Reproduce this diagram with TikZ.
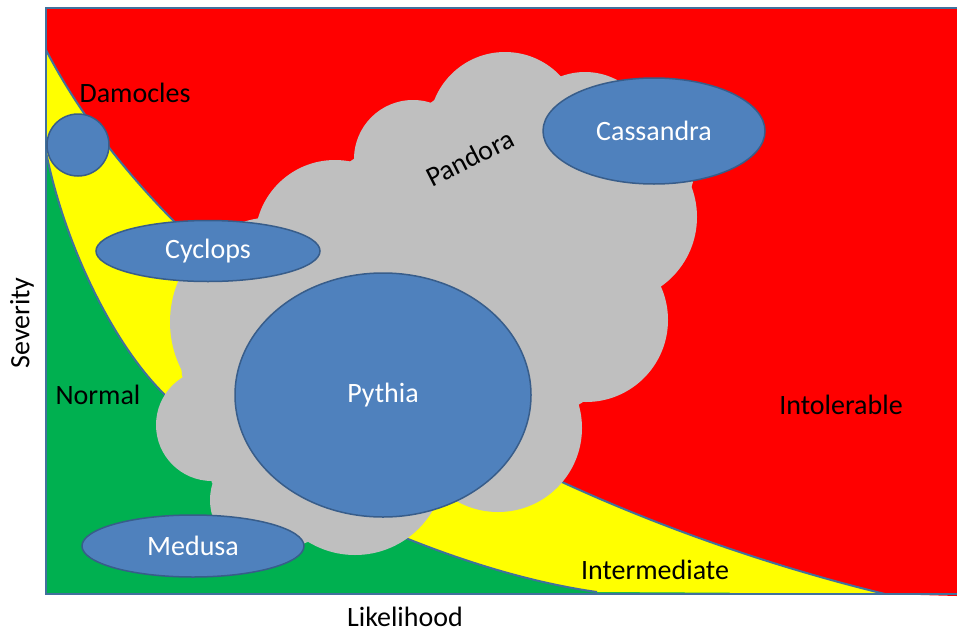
\documentclass[tikz,border=0pt]{standalone}
\usepackage{fontspec}
\setmainfont{Carlito}
\usetikzlibrary{shapes.geometric}
\definecolor{rd}{HTML}{FF0000}
\definecolor{yl}{HTML}{FFFF00}
\definecolor{gn}{HTML}{00B050}
\definecolor{cl}{HTML}{BFBFBF}
\definecolor{bl}{HTML}{4F81BD}
\definecolor{ol}{HTML}{385D8A}
\definecolor{fr}{HTML}{41719C}
\begin{document}
\begin{tikzpicture}[x=1pt,y=-1pt,
  lbl/.style={font=\fontsize{28}{30}\selectfont, text=black, inner sep=0pt},
  blob/.style={ellipse, draw=ol, fill=bl, line width=1.5pt, text=white,
    font=\fontsize{28}{30}\selectfont, inner sep=0pt},
  boundary/.style={draw=fr, line width=2pt},
  cloudpart/.style={fill=cl}]
\useasboundingbox (0,0) rectangle (957,632);
% regions
\fill[gn] (46,8) rectangle (957,594);
\fill[yl] (46,152) .. controls (66,250) and (115,345) .. (163,393)
  .. controls (243,473) and (440,570) .. (597,592) -- (957,594) -- (957,8) -- (46,8) -- cycle;
\fill[rd] (46,50) .. controls (176,300) and (520,505) .. (885,594)
  -- (957,596) -- (957,8) -- (46,8) -- cycle;
\draw[boundary] (46,152) .. controls (66,250) and (115,345) .. (163,393)
  .. controls (243,473) and (440,570) .. (597,592);
\draw[boundary] (46,50) .. controls (176,300) and (520,505) .. (885,594);
% cloud (Pandora)
\fill[cloudpart] (265,222) -- (355,158) -- (440,96) -- (555,74) -- (640,110) -- (693,182)
  -- (660,287) -- (583,402) -- (441,490) -- (300,545) -- (212,483) -- (182,375) -- (175,290) -- cycle;
\fill[cloudpart] (335,240) circle[radius=80];
\fill[cloudpart] (413,159) circle[radius=59];
\fill[cloudpart] (505,128) circle[radius=76];
\fill[cloudpart] (585,140) circle[radius=68];
\fill[cloudpart] (612,217) circle[radius=85];
\fill[cloudpart] (586,320) circle[radius=82];
\fill[cloudpart] (498,428) circle[radius=84];
\fill[cloudpart] (355,465) circle[radius=90];
\fill[cloudpart] (265,500) circle[radius=55];
\fill[cloudpart] (212,425) circle[radius=56];
\fill[cloudpart] (275,322) circle[radius=105];
% frame
\draw[fr, line width=1.5pt] (957,8) -- (46,8) -- (46,594) -- (957,594);
% ellipses
\node[blob, circle, minimum size=62pt] (damoclesdisc) at (78,145) {};
\node[blob, minimum width=224pt, minimum height=61pt] (cyclops) at (208,251) {Cyclops};
\node[blob, minimum width=222pt, minimum height=106pt] (cassandra) at (654,131) {Cassandra};
\node[blob, minimum width=296pt, minimum height=244pt] (pythia) at (383,395) {Pythia};
\node[blob, minimum width=222pt, minimum height=62pt] (medusa) at (193,546) {Medusa};
% labels
\node[lbl] (damocles) at (135,93) {Damocles};
\node[lbl, rotate=27] (pandora) at (470,158) {Pandora};
\node[lbl] (normal) at (98,395) {Normal};
\node[lbl] (intolerable) at (841,405) {Intolerable};
\node[lbl] (intermediate) at (655,570) {Intermediate};
\node[lbl, rotate=90] (severity) at (22,323) {Severity};
\node[lbl] (likelihood) at (405,617) {Likelihood};
\end{tikzpicture}
\end{document}
